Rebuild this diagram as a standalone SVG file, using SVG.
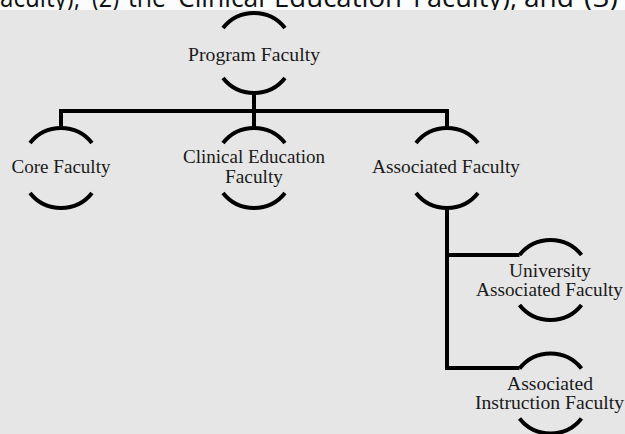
<svg xmlns="http://www.w3.org/2000/svg" width="625" height="434" viewBox="0 0 625 434">
  <style>
    .arc { fill: none; stroke: #000; stroke-width: 4; stroke-linecap: butt; }
    .conn { fill: none; stroke: #000; stroke-width: 4; stroke-linecap: butt; stroke-linejoin: miter; }
    .lbl { font-family: "Liberation Serif", "Times New Roman", serif; font-size: 19.5px; fill: #1a1a1a; }
    .top { font-family: "Open Sans", "Liberation Sans", Arial, sans-serif; font-size: 27px; fill: #111; }
  </style>
  <rect x="0" y="0" width="625" height="434" fill="#fafcfd"/>
  <g id="cropped-caption">
    <text class="top" x="0" y="6.5" textLength="80" lengthAdjust="spacingAndGlyphs">aculty),</text>
    <text class="top" x="92" y="6.5" textLength="27" lengthAdjust="spacingAndGlyphs">(2)</text>
    <text class="top" x="128" y="6.5" textLength="38" lengthAdjust="spacingAndGlyphs">the</text>
    <text class="top" x="178" y="6.5" textLength="87" lengthAdjust="spacingAndGlyphs">Clinical</text>
    <text class="top" x="274" y="6.5" textLength="128" lengthAdjust="spacingAndGlyphs">Education</text>
    <text class="top" x="413" y="6.5" textLength="104" lengthAdjust="spacingAndGlyphs">Faculty),</text>
    <text class="top" x="524" y="6.5" textLength="50" lengthAdjust="spacingAndGlyphs">and</text>
    <text class="top" x="584" y="6.5" textLength="34" lengthAdjust="spacingAndGlyphs">(3)</text>
  </g>
  <rect x="0" y="10" width="625" height="424" fill="#e6e6e6"/>

  <g id="connectors">
    <path class="conn" d="M254,93 V111"/>
    <path class="conn" d="M61,128 V111 H447 V128"/>
    <path class="conn" d="M254,111 V128"/>
    <path class="conn" d="M447,208 V368 H519.5"/>
    <path class="conn" d="M447,255 H519.5"/>
  </g>

  <g id="node-program">
    <path class="arc" d="M223,28 A39.5,39.5 0 0 1 285,28"/>
    <path class="arc" d="M223,78 A39.5,39.5 0 0 0 285,78"/>
    <text class="lbl" x="188" y="60.5" textLength="132" lengthAdjust="spacingAndGlyphs">Program Faculty</text>
  </g>

  <g id="node-core">
    <path class="arc" d="M30,143 A39.5,39.5 0 0 1 92,143"/>
    <path class="arc" d="M30,193 A39.5,39.5 0 0 0 92,193"/>
    <text class="lbl" x="11.5" y="173" textLength="99" lengthAdjust="spacingAndGlyphs">Core Faculty</text>
  </g>

  <g id="node-clinical">
    <path class="arc" d="M223,143 A39.5,39.5 0 0 1 285,143"/>
    <path class="arc" d="M223,193 A39.5,39.5 0 0 0 285,193"/>
    <text class="lbl" x="183" y="163" textLength="142" lengthAdjust="spacingAndGlyphs">Clinical Education</text>
    <text class="lbl" x="225" y="183" textLength="58" lengthAdjust="spacingAndGlyphs">Faculty</text>
  </g>

  <g id="node-associated">
    <path class="arc" d="M416,143 A39.5,39.5 0 0 1 478,143"/>
    <path class="arc" d="M416,193 A39.5,39.5 0 0 0 478,193"/>
    <text class="lbl" x="372" y="173" textLength="148" lengthAdjust="spacingAndGlyphs">Associated Faculty</text>
  </g>

  <g id="node-university">
    <path class="arc" d="M519.5,255 A39.5,39.5 0 0 1 581.5,255"/>
    <path class="arc" d="M519.5,305 A39.5,39.5 0 0 0 581.5,305"/>
    <text class="lbl" x="509" y="276.5" textLength="82" lengthAdjust="spacingAndGlyphs">University</text>
    <text class="lbl" x="476" y="296" textLength="147" lengthAdjust="spacingAndGlyphs">Associated Faculty</text>
  </g>

  <g id="node-instruction">
    <path class="arc" d="M519.5,368.5 A39.5,39.5 0 0 1 581.5,368.5"/>
    <path class="arc" d="M519.5,418.5 A39.5,39.5 0 0 0 581.5,418.5"/>
    <text class="lbl" x="507" y="390" textLength="86" lengthAdjust="spacingAndGlyphs">Associated</text>
    <text class="lbl" x="475" y="409" textLength="149" lengthAdjust="spacingAndGlyphs">Instruction Faculty</text>
  </g>
</svg>
